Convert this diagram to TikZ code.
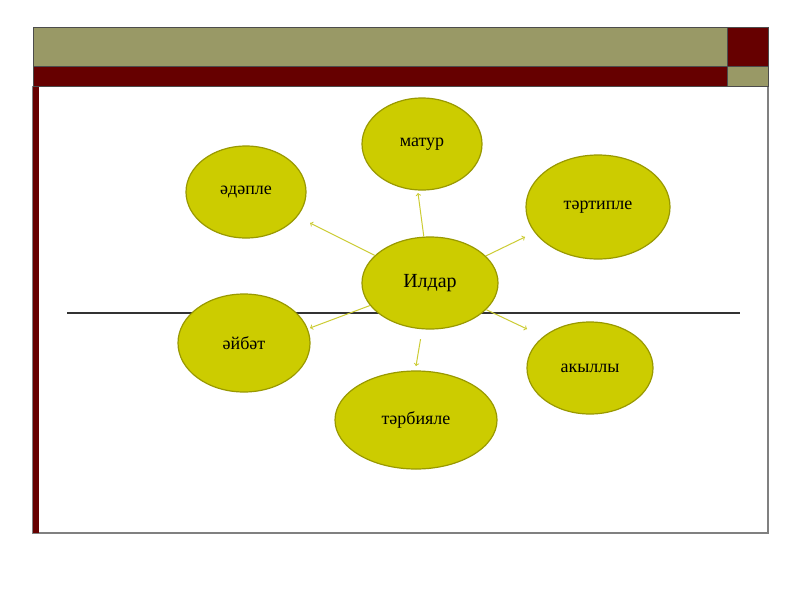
\documentclass[tikz,border=0pt]{standalone}
\usepackage{fontspec}
\setmainfont{Liberation Serif}
\usetikzlibrary{shapes.geometric}
\definecolor{olive}{RGB}{153,153,102}
\definecolor{maroon}{RGB}{102,0,0}
\definecolor{bubblefill}{RGB}{204,204,0}
\definecolor{bubbleline}{RGB}{153,153,0}
\definecolor{linkcol}{RGB}{204,204,51}
\begin{document}
\begin{tikzpicture}[x=1pt, y=-1pt,
    bubble/.style={ellipse, draw=bubbleline, fill=bubblefill, line width=1.2pt,
        inner sep=0pt, font=\fontsize{18}{21}\selectfont},
    link/.style={->, draw=linkcol, line width=1pt}]
    \useasboundingbox (0,0) rectangle (800,600);
    % Frame
    \fill [white] (33,27) rectangle (768,533);
    \draw [gray, line width=1.5pt] (33,86) -- (33,533) -- (768,533) -- (768,27);
    \fill [maroon] (33,86) rectangle (39,533);
    % Header
    \fill [olive] (33,27) rectangle (727,66);
    \fill [maroon] (727,27) rectangle (768,66);
    \fill [maroon] (33,66) rectangle (727,86);
    \fill [olive] (727,66) rectangle (768,86);
    \draw [black!70, line width=0.8pt]
        (33,27) rectangle (768,86)
        (33,66) -- (768,66)
        (727,27) -- (727,86);
    % Rule
    \draw [black!80, line width=1.2pt] (67,313) -- (740,313);
    % Bubbles
    \node [bubble, minimum width=136pt, minimum height=92pt,
        font=\fontsize{20}{24}\selectfont] (ildar) at (430,283) {Илдар};
    \node [bubble, minimum width=120pt, minimum height=92pt] (matur) at (422,144) {матур};
    \node [bubble, minimum width=120pt, minimum height=92pt] (adaple) at (246,192) {әдәпле};
    \node [bubble, minimum width=144pt, minimum height=104pt] (tartiple) at (598,207) {тәртипле};
    \node [bubble, minimum width=132pt, minimum height=98pt] (aybat) at (244,343) {әйбәт};
    \node [bubble, minimum width=126pt, minimum height=92pt] (akylly) at (590,368) {акыллы};
    \node [bubble, minimum width=162pt, minimum height=98pt] (tarbiyale) at (416,420) {тәрбияле};
    % Arrow tips
    \coordinate (tipMatur) at (418,193);
    \coordinate (tipAdaple) at (310,223);
    \coordinate (tipTartiple) at (525,237);
    \coordinate (tipAybat) at (310,328);
    \coordinate (tipAkylly) at (527,329);
    \coordinate (tipTarbiyale) at (416,366);
    % Arrows
    \foreach \t in {tipMatur, tipAdaple, tipTartiple, tipAybat, tipAkylly}
    {
    \draw [link] (ildar) -- (\t);
    }
    \draw [link, shorten <=10pt] (ildar) -- (tipTarbiyale);
\end{tikzpicture}
\end{document}
